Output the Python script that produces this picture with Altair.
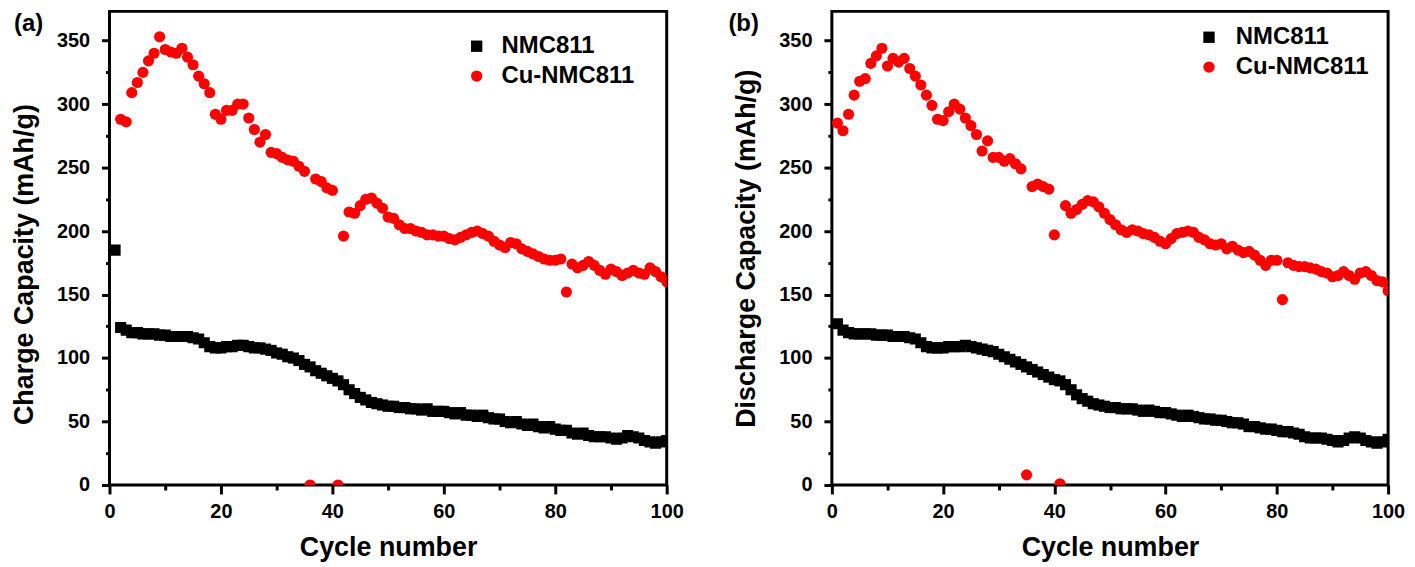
import altair as alt
import pandas as pd

cycles = list(range(1, 101))
series_names = ["NMC811", "Cu-NMC811"]

charge_nmc = [185, 124, 122, 120, 120, 119, 119, 119, 118, 118,
              117, 117, 117, 117, 116, 115, 112, 109, 108, 108,
              109, 109, 110, 110, 109, 108, 108, 107, 106, 104,
              103, 101, 100, 98, 95, 93, 90, 88, 86, 84,
              82, 79, 75, 72, 69, 67, 65, 64, 63, 62,
              62, 61, 61, 60, 60, 59, 60, 58, 58, 58,
              57, 56, 57, 55, 55, 54, 55, 53, 52, 52,
              50, 49, 50, 48, 47, 48, 46, 45, 46, 44,
              43, 43, 41, 40, 41, 39, 38, 38, 38, 37,
              36, 37, 39, 38, 37, 35, 34, 33, 34, 35]

charge_cu = [None, 288, 286, 309, 317, 325, 334, 340, 353, 343,
             341, 340, 344, 337, 331, 322, 316, 309, 292, 288,
             295, 295, 300, 300, 289, 280, 270, 276, 262, 261,
             258, 256, 255, 251, 247, 0, 241, 239, 234, 232,
             0, 196, 215, 214, 220, 225, 226, 222, 218, 211,
             210, 205, 202, 202, 200, 199, 197, 197, 196, 196,
             194, 193, 195, 197, 199, 200, 198, 196, 192, 189,
             187, 191, 190, 186, 184, 182, 180, 178, 177, 177,
             178, 152, 174, 171, 173, 176, 173, 169, 166, 170,
             168, 165, 167, 169, 167, 166, 171, 168, 164, 160]

discharge_nmc = [127, 122, 120, 119, 119, 119, 119, 118, 118, 118,
                 117, 117, 117, 116, 115, 112, 109, 108, 108, 108,
                 109, 109, 109, 110, 109, 108, 107, 106, 105, 103,
                 101, 99, 97, 95, 93, 91, 89, 87, 85, 83,
                 82, 79, 75, 71, 68, 66, 64, 63, 62, 61,
                 61, 60, 60, 60, 59, 58, 59, 58, 57, 57,
                 56, 55, 54, 55, 54, 53, 52, 52, 51, 51,
                 50, 49, 49, 48, 46, 46, 45, 44, 44, 43,
                 42, 42, 41, 40, 38, 37, 37, 37, 36, 35,
                 34, 35, 37, 38, 37, 35, 34, 33, 34, 36]

discharge_cu = [285, 279, 292, 307, 318, 320, 332, 338, 344, 330,
                336, 333, 336, 328, 322, 315, 307, 299, 288, 287,
                294, 300, 296, 289, 283, 276, 263, 271, 258, 258,
                255, 257, 253, 249, 8, 235, 237, 235, 233, 197,
                1, 220, 214, 217, 221, 224, 223, 219, 214, 209,
                205, 201, 199, 201, 200, 198, 197, 195, 192, 190,
                194, 198, 199, 200, 199, 195, 193, 190, 189, 190,
                186, 188, 185, 183, 184, 181, 177, 173, 177, 177,
                146, 175, 173, 172, 172, 171, 170, 168, 167, 164,
                165, 168, 165, 162, 167, 168, 165, 161, 160, 153]

x_ticks = [0, 10, 20, 30, 40, 50, 60, 70, 80, 90, 100]
y_ticks = [0, 25, 50, 75, 100, 125, 150, 175, 200, 225, 250, 275, 300, 325, 350]

FONT = "Liberation Sans"


def long_frame(nmc, cu):
    rows = []
    for name, vals in zip(series_names, [nmc, cu]):
        for c, v in zip(cycles, vals):
            if v is not None:
                rows.append({"cycle": c, "value": v, "series": name})
    return pd.DataFrame(rows)


def panel(nmc, cu, ytitle, letter, letter_x, leg_x, leg_y, leg_off, title_y, w):
    df = long_frame(nmc, cu)
    legend = alt.Legend(
        orient="none", legendX=leg_x, legendY=leg_y, title=None,
        labelFont=FONT, labelFontSize=24, labelFontWeight="bold",
        labelColor="black", symbolSize=130, rowPadding=6,
        labelOffset=leg_off, padding=0, symbolStrokeWidth=0,
    )
    color = alt.Color("series:N",
                      scale=alt.Scale(domain=series_names, range=["#000000", "#ff0000"]),
                      legend=legend)
    shape = alt.Shape("series:N",
                      scale=alt.Scale(domain=series_names, range=["square", "circle"]),
                      legend=legend)
    x = alt.X("cycle:Q",
              scale=alt.Scale(domain=[0, 100], nice=False, zero=False),
              axis=alt.Axis(values=x_ticks, title="Cycle number",
                            labelExpr="datum.value % 20 === 0 ? datum.label : ''",
                            tickSize={"condition": {"test": "datum.value % 20 === 0", "value": 9}, "value": 5},
                            titlePadding=13))
    y = alt.Y("value:Q",
              scale=alt.Scale(domain=[0, 373], nice=False),
              axis=alt.Axis(values=y_ticks, title=ytitle,
                            labelExpr="datum.value % 50 === 0 ? datum.label : ''",
                            tickSize={"condition": {"test": "datum.value % 50 === 0", "value": 8}, "value": 4},
                            labelPadding=12, titlePadding=18, titleY=title_y))
    pts = alt.Chart(df).mark_point(filled=True, opacity=1, size=125, clip=True).encode(
        x=x, y=y, color=color, shape=shape)
    lab = alt.Chart(pd.DataFrame({"t": [letter]})).mark_text(
        font=FONT, fontSize=24, fontWeight="bold", align="left", baseline="alphabetic",
        color="black").encode(text="t:N", x=alt.value(letter_x), y=alt.value(20))
    return alt.layer(pts, lab).properties(width=w, height=476)


left = panel(charge_nmc, charge_cu, "Charge Capacity (mAh/g)", "(a)", -96, 357, 23, 13, 254, 560)
right = panel(discharge_nmc, discharge_cu, "Discharge Capacity (mAh/g)", "(b)", -104, 367, 14, 15, 238, 559)

chart = alt.hconcat(left, right, spacing=41).resolve_scale(
    color="independent", shape="independent"
).properties(
    padding={"left": 1, "top": 0, "right": 0, "bottom": 0}
).configure_view(
    stroke="black", strokeWidth=3
).configure_axis(
    labelFont=FONT, labelFontSize=20, labelFontWeight="bold", labelColor="black",
    titleFont=FONT, titleFontSize=27, titleFontWeight="bold", titleColor="black",
    domain=False, grid=False, tickColor="black", tickWidth=3, labelPadding=8,
    labelFlush=False, labelOverlap=False,
)

chart.save("out.html", embed_options={"renderer": "svg", "actions": False})
